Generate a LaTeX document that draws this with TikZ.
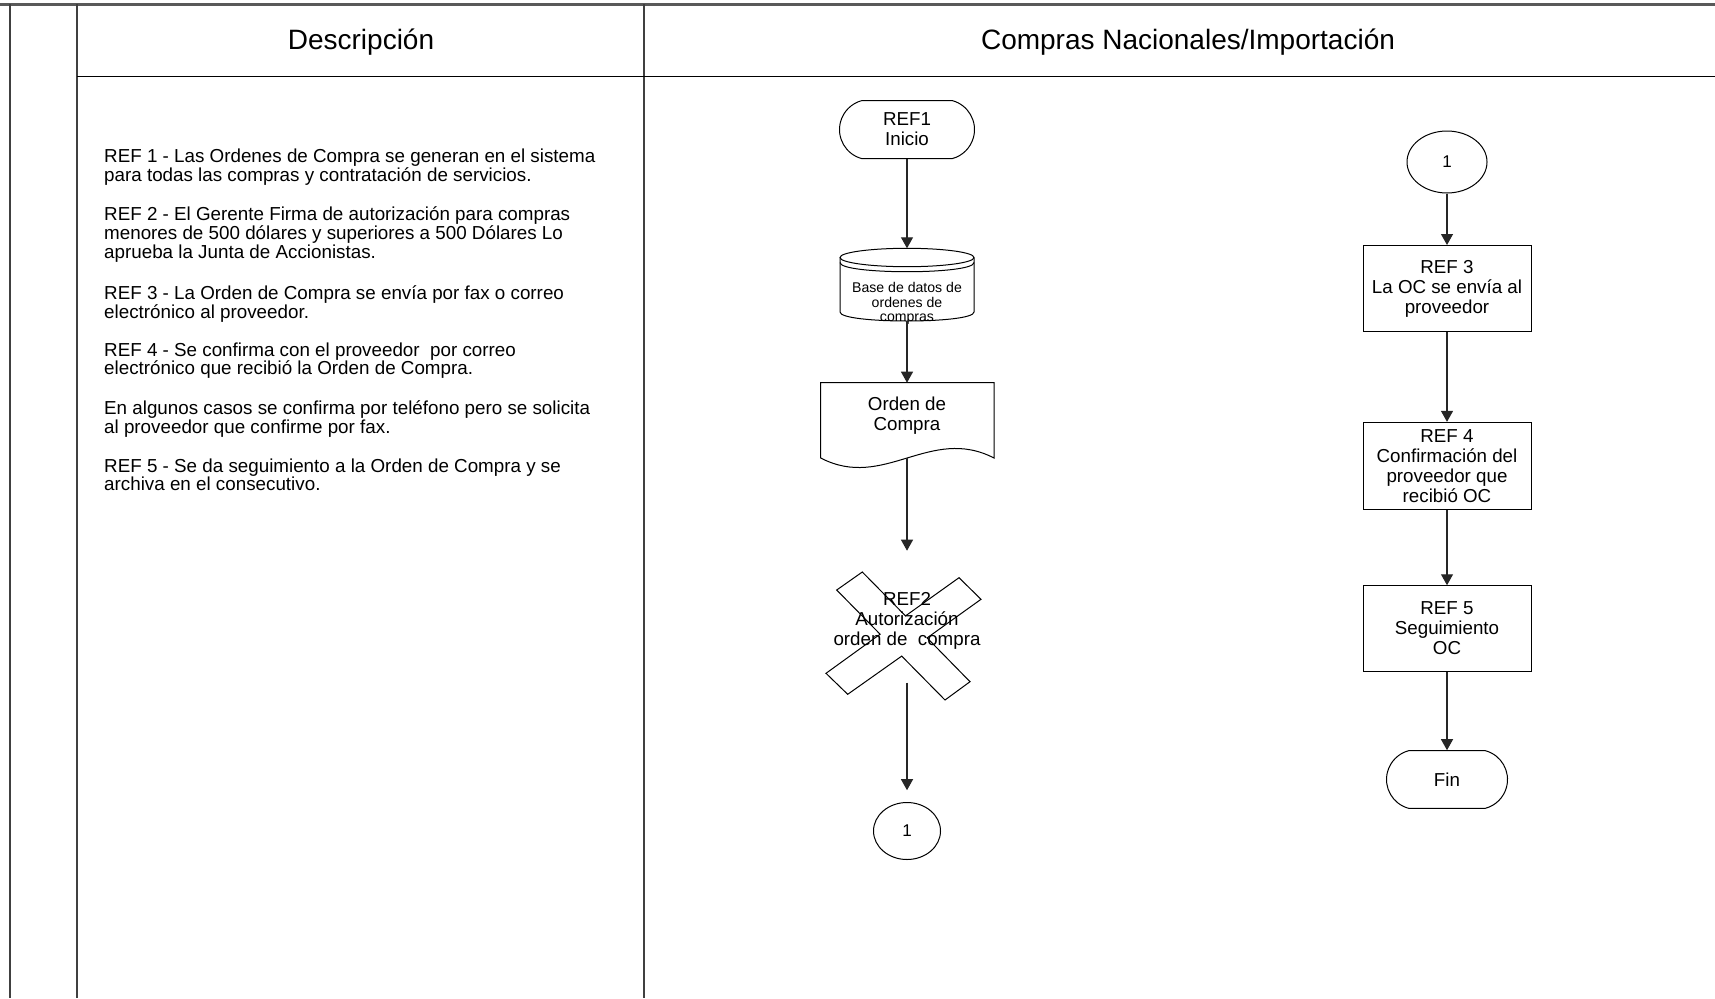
\documentclass[tikz,border=0pt]{standalone}
\usepackage{fontspec}
\setmainfont{Liberation Sans}
\usetikzlibrary{arrows.meta,shapes.geometric,shapes.misc,calc}

\begin{document}
\begin{tikzpicture}[x=1pt,y=-1pt,
  lane/.style={line width=2pt,black!75},
  headtxt/.style={font=\fontsize{28}{30}\selectfont,inner sep=0pt},
  desc/.style={anchor=north west,inner sep=0pt,align=left,font=\fontsize{18.8}{18.7}\selectfont},
  flow/.style={font=\fontsize{18.75}{20}\selectfont,align=center,inner sep=0pt},
  outline/.style={draw,line width=1pt},
  procbox/.style={flow,outline,rectangle,minimum width=168pt,minimum height=86pt},
  termbox/.style={flow,outline,rounded rectangle,rounded rectangle arc length=150},
  connbox/.style={outline,ellipse,inner sep=0pt,font=\fontsize{17}{18}\selectfont},
  arr/.style={line width=1.2pt,black!85,-{Triangle[length=11pt,width=12pt]}}]

\useasboundingbox (0,0) rectangle (1715,998);

% table frame
\draw[line width=3pt,black!65] (0,4.3) -- (1715,4.3);
\draw[lane] (9.5,4.3) -- (9.5,998);
\draw[lane] (77,4.3) -- (77,998);
\draw[lane] (644,4.3) -- (644,998);
\draw[line width=1.5pt] (77,76.5) -- (1715,76.5);

\node[headtxt] (hdesc) at (361,42.5) {Descripción};
\node[headtxt] (hcomp) at (1188,42.5) {Compras Nacionales/Importación};

% description column
\node[desc] (d1) at (104,148.7) {REF 1 - Las Ordenes de Compra se generan en el sistema\\para todas las compras y contratación de servicios.};
\node[desc] (d2) at (104,206.6) {REF 2 - El Gerente Firma de autorización para compras\\menores de 500 dólares y superiores a 500 Dólares Lo\\aprueba la Junta de Accionistas.};
\node[desc] (d3) at (104,285.4) {REF 3 - La Orden de Compra se envía por fax o correo\\electrónico al proveedor.};
\node[desc] (d4) at (104,342.3) {REF 4 - Se confirma con el proveedor\ \ por correo\\electrónico que recibió la Orden de Compra.};
\node[desc] (d5) at (104,400.3) {En algunos casos se confirma por teléfono pero se solicita\\al proveedor que confirme por fax.};
\node[desc] (d6) at (104,458.3) {REF 5 - Se da seguimiento a la Orden de Compra y se\\archiva en el consecutivo.};

% ---- left flow ----
\node[termbox,minimum width=135pt,minimum height=58pt] (inicio) at (907,129.6) {REF1\\Inicio};

% database cylinder
\draw[line width=1pt,fill=white] (840,257.5) -- (840,312)
  .. controls (840,324) and (974,324) .. (974,312) -- (974,257.5);
\draw[line width=1pt] (907,257.5) ellipse [x radius=67, y radius=9.2];
\draw[line width=1pt] (840,262.5) .. controls (840,274.8) and (974,274.8) .. (974,262.5);
\coordinate (dbtop) at (907,248.3);
\coordinate (dbbot) at (907,321);
\node[flow,font=\fontsize{14.1}{14.5}\selectfont] (db) at (907,303.5) {Base de datos de\\ordenes de\\compras};

% document shape
\draw[line width=1pt] (820.7,382.7) -- (994,382.7) -- (994,458)
  .. controls (930,425) and (884,491) .. (820.7,458) -- cycle;
\coordinate (doctop) at (907,382.7);
\coordinate (docbot) at (907,457.5);
\node[flow] (doc) at (907,415.5) {Orden de\\Compra};

% cross shape
\draw[line width=1pt,line join=miter] (862.3,572) -- (905.5,615.9) -- (959,577.7) -- (981,599.3)
  -- (927.1,637.9) -- (970,681.7) -- (945,700) -- (901.7,656.1) -- (847.7,694.3)
  -- (826,673.3) -- (880.1,634.2) -- (836.7,590) -- cycle;
\coordinate (xin) at (907,550.7);
\coordinate (xout) at (907,682.7);
\node[flow] (auth) at (907,620.5) {REF2\\Autorización\\orden de\ \ compra};

\node[connbox,minimum width=67pt,minimum height=57pt] (c1) at (907,831) {1};

\draw[arr] (inicio.south) -- (dbtop);
\draw[arr] (dbbot) -- (doctop);
\draw[arr] (docbot) -- (xin);
\draw[arr,shorten >=11.8pt] (xout) -- (c1.north);

% ---- right flow ----
\node[connbox,minimum width=80pt,minimum height=62pt] (c2) at (1447,162) {1};
\node[procbox] (r3) at (1447,288.5) {REF 3\\La OC se envía al\\proveedor};
\node[procbox,minimum height=86.7pt] (r4) at (1447,465.7) {REF 4\\Confirmación del\\proveedor que\\recibió OC};
\node[procbox,minimum height=85.3pt] (r5) at (1447,628.4) {REF 5\\Seguimiento\\OC};
\node[termbox,minimum width=121pt,minimum height=57.6pt] (fin) at (1447,779.5) {Fin};

\draw[arr] (c2.south) -- (r3.north);
\draw[arr] (r3.south) -- (r4.north);
\draw[arr] (r4.south) -- (r5.north);
\draw[arr] (r5.south) -- (fin.north);

\end{tikzpicture}
\end{document}
